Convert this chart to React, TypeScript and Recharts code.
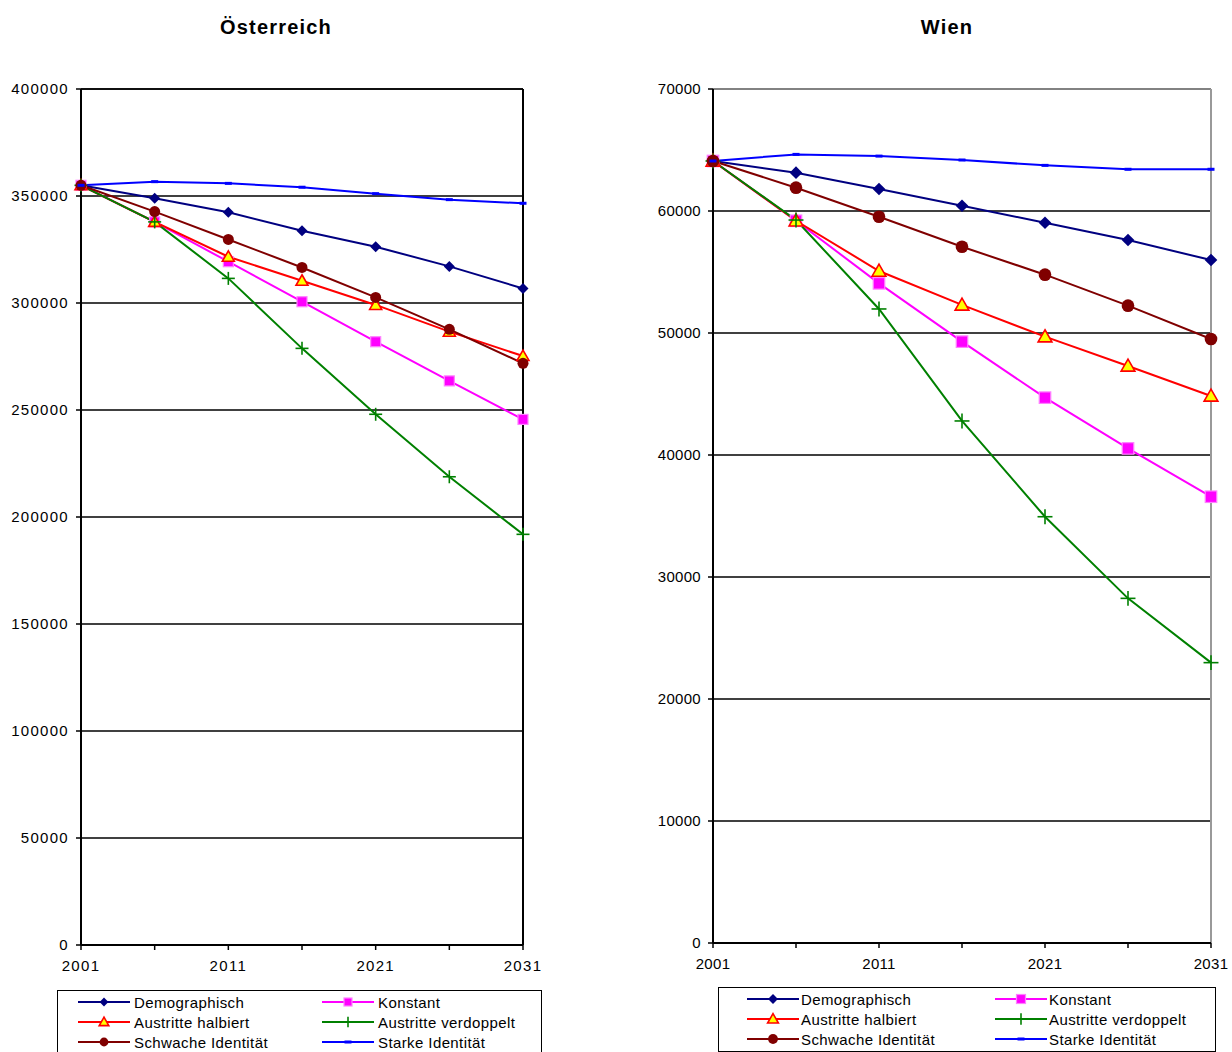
import React from "react";
import { LineChart, Line, XAxis, YAxis, CartesianGrid, ReferenceLine } from "recharts";

const years = ["2001", "2006", "2011", "2016", "2021", "2026", "2031"];
const xTickLabels = ["2001", "", "2011", "", "2021", "", "2031"];

const seriesNames = [
  "Demographisch",
  "Konstant",
  "Austritte halbiert",
  "Austritte verdoppelt",
  "Schwache Identität",
  "Starke Identität",
];

// Österreich
const atDemographisch = [355000, 348900, 342400, 333800, 326300, 317100, 306800];
const atKonstant = [355000, 337900, 319300, 300600, 281900, 263600, 245600];
const atHalbiert = [355000, 337900, 321600, 310400, 299100, 286600, 275200];
const atVerdoppelt = [355000, 337900, 311500, 278800, 248000, 218800, 191900];
const atSchwach = [355000, 342700, 329700, 316600, 302600, 287700, 271800];
const atStark = [355000, 356700, 355900, 354100, 351100, 348300, 346600];
const atTicks = [0, 50000, 100000, 150000, 200000, 250000, 300000, 350000, 400000];

// Wien
const wDemographisch = [64100, 63140, 61800, 60430, 59040, 57620, 55980];
const wKonstant = [64100, 59200, 54070, 49290, 44700, 40540, 36580];
const wHalbiert = [64100, 59200, 55080, 52300, 49700, 47300, 44840];
const wVerdoppelt = [64100, 59260, 51970, 42790, 34940, 28250, 22980];
const wSchwach = [64100, 61910, 59530, 57070, 54780, 52240, 49510];
const wStark = [64100, 64640, 64500, 64180, 63740, 63420, 63420];
const wTicks = [0, 10000, 20000, 30000, 40000, 50000, 60000, 70000];

const keys = ["demo", "konst", "halb", "dopp", "schwach", "stark"];
const colors = ["#000080", "#FF00FF", "#FF0000", "#008000", "#800000", "#0000FF"];
const markers = ["diamond", "square", "triangle", "plus", "circle", "bar"];

const FONT = "'Liberation Sans', Arial, sans-serif";

function buildRows(cols: number[][]) {
  return years.map((year, i) => {
    const row: Record<string, string | number> = { year };
    keys.forEach((k, j) => {
      row[k] = cols[j][i];
    });
    return row;
  });
}

const atData = buildRows([atDemographisch, atKonstant, atHalbiert, atVerdoppelt, atSchwach, atStark]);
const wData = buildRows([wDemographisch, wKonstant, wHalbiert, wVerdoppelt, wSchwach, wStark]);

function Marker({ type, cx, cy, s = 1 }: { type: string; cx: number; cy: number; s?: number }) {
  switch (type) {
    case "diamond": {
      const r = 5.5 * s;
      return <polygon points={`${cx},${cy - r} ${cx + r},${cy} ${cx},${cy + r} ${cx - r},${cy}`} fill="#000080" />;
    }
    case "square": {
      const r = 5 * s;
      return <rect x={cx - r} y={cy - r} width={2 * r} height={2 * r} fill="#FF00FF" stroke="#FF80FF" strokeWidth={1.2} />;
    }
    case "triangle": {
      const r = 6 * s;
      return (
        <polygon
          points={`${cx},${cy - r} ${cx + r},${cy + r * 0.75} ${cx - r},${cy + r * 0.75}`}
          fill="#FFFF00"
          stroke="#FF0000"
          strokeWidth={1.6}
        />
      );
    }
    case "plus": {
      const r = 6.5 * s;
      return (
        <g stroke="#008000" strokeWidth={1.6}>
          <line x1={cx - r} y1={cy} x2={cx + r} y2={cy} />
          <line x1={cx} y1={cy - r} x2={cx} y2={cy + r} />
        </g>
      );
    }
    case "circle":
      return <circle cx={cx} cy={cy} r={5.5 * s} fill="#800000" />;
    default:
      return <rect x={cx - 3.5} y={cy - 1.5} width={7} height={3} fill="#0000FF" />;
  }
}

function makeDot(type: string, s: number, prefix: string) {
  return (props: any) => (
    <g key={`${prefix}-${type}-${props.index}`}>
      <Marker type={type} cx={props.cx} cy={props.cy} s={s} />
    </g>
  );
}

type PanelProps = {
  id: string;
  title: string;
  data: Record<string, string | number>[];
  ticks: number[];
  left: number;
  width: number;
  yAxisWidth: number;
  marginRight: number;
  marginBottom: number;
  spacing: string;
  titleX: number;
  markerScale: number;
  borderColor: string;
};

function Panel(p: PanelProps) {
  const max = p.ticks[p.ticks.length - 1];
  return (
    <>
      <div
        style={{
          position: "absolute",
          left: p.titleX - 100,
          width: 200,
          top: 17,
          lineHeight: "20px",
          textAlign: "center",
          fontFamily: FONT,
          fontWeight: "bold",
          fontSize: 20,
          letterSpacing: "1.2px",
        }}
      >
        {p.title}
      </div>
      <div style={{ position: "absolute", left: p.left, top: 0, fontFamily: FONT, letterSpacing: p.spacing }}>
        <LineChart
          width={p.width}
          height={1052}
          data={p.data}
          margin={{ top: 89, right: p.marginRight, bottom: p.marginBottom, left: 0 }}
        >
          <CartesianGrid vertical={false} stroke="#000" strokeWidth={1.3} />
          <XAxis
            dataKey="year"
            height={30}
            interval={0}
            tickSize={5}
            tickMargin={10}
            tickFormatter={(_v: string, i: number) => xTickLabels[i]}
            tick={{ fill: "#000", fontSize: 15 }}
            axisLine={{ stroke: "#000", strokeWidth: 2 }}
            tickLine={{ stroke: "#000", strokeWidth: 1.5 }}
          />
          <YAxis
            width={p.yAxisWidth}
            domain={[0, max]}
            ticks={p.ticks}
            interval={0}
            tickSize={5}
            tickMargin={7}
            tick={{ fill: "#000", fontSize: 15 }}
            axisLine={{ stroke: "#000", strokeWidth: 2 }}
            tickLine={{ stroke: "#000", strokeWidth: 1.5 }}
          />
          <ReferenceLine y={max} stroke={p.borderColor} strokeWidth={1.5} />
          <ReferenceLine x="2031" stroke={p.borderColor} strokeWidth={2} />
          {keys.map((k, j) => (
            <Line
              key={k}
              dataKey={k}
              name={seriesNames[j]}
              stroke={colors[j]}
              strokeWidth={2}
              isAnimationActive={false}
              dot={makeDot(markers[j], p.markerScale, p.id)}
              activeDot={false}
            />
          ))}
        </LineChart>
      </div>
    </>
  );
}

function LegendIcon({ j, s }: { j: number; s: number }) {
  return (
    <svg width={52} height={20} style={{ display: "block", flex: "none" }}>
      <line x1={0} y1={10} x2={52} y2={10} stroke={colors[j]} strokeWidth={2} />
      <Marker type={markers[j]} cx={26} cy={10} s={s} />
    </svg>
  );
}

function LegendBox({ left, top, width, height, padLeft, colWidth, gap, s, spacing }: any) {
  return (
    <div
      style={{
        position: "absolute",
        left,
        top,
        width,
        height,
        border: "1.5px solid #000",
        boxSizing: "border-box",
        background: "#fff",
        paddingTop: 1,
        paddingLeft: padLeft,
        display: "grid",
        gridTemplateColumns: `${colWidth}px ${colWidth}px`,
        gridAutoRows: "20px",
        fontFamily: FONT,
        fontSize: 15,
        letterSpacing: spacing,
      }}
    >
      {seriesNames.map((n, j) => (
        <div key={n} style={{ display: "flex", alignItems: "center", whiteSpace: "nowrap" }}>
          <LegendIcon j={j} s={s} />
          <span style={{ marginLeft: gap }}>{n}</span>
        </div>
      ))}
    </div>
  );
}

export default function App() {
  return (
    <div style={{ position: "absolute", left: 0, top: 0, width: 1232, height: 1052, overflow: "hidden", background: "#fff" }}>
      <Panel
        id="at"
        title="Österreich"
        data={atData}
        ticks={atTicks}
        left={0}
        width={560}
        yAxisWidth={81}
        marginRight={37}
        marginBottom={77}
        spacing="1.3px"
        titleX={276}
        markerScale={1}
        borderColor="#000"
      />
      <Panel
        id="w"
        title="Wien"
        data={wData}
        ticks={wTicks}
        left={620}
        width={612}
        yAxisWidth={93}
        marginRight={21}
        marginBottom={79}
        spacing="0.3px"
        titleX={947}
        markerScale={1.15}
        borderColor="#999"
      />
      <LegendBox left={57} top={990} width={485} height={70} padLeft={20} colWidth={244} gap={4} s={0.8} spacing="0.4px" />
      <LegendBox left={718} top={987} width={498} height={65} padLeft={28} colWidth={248} gap={2} s={0.9} spacing="0.4px" />
    </div>
  );
}
